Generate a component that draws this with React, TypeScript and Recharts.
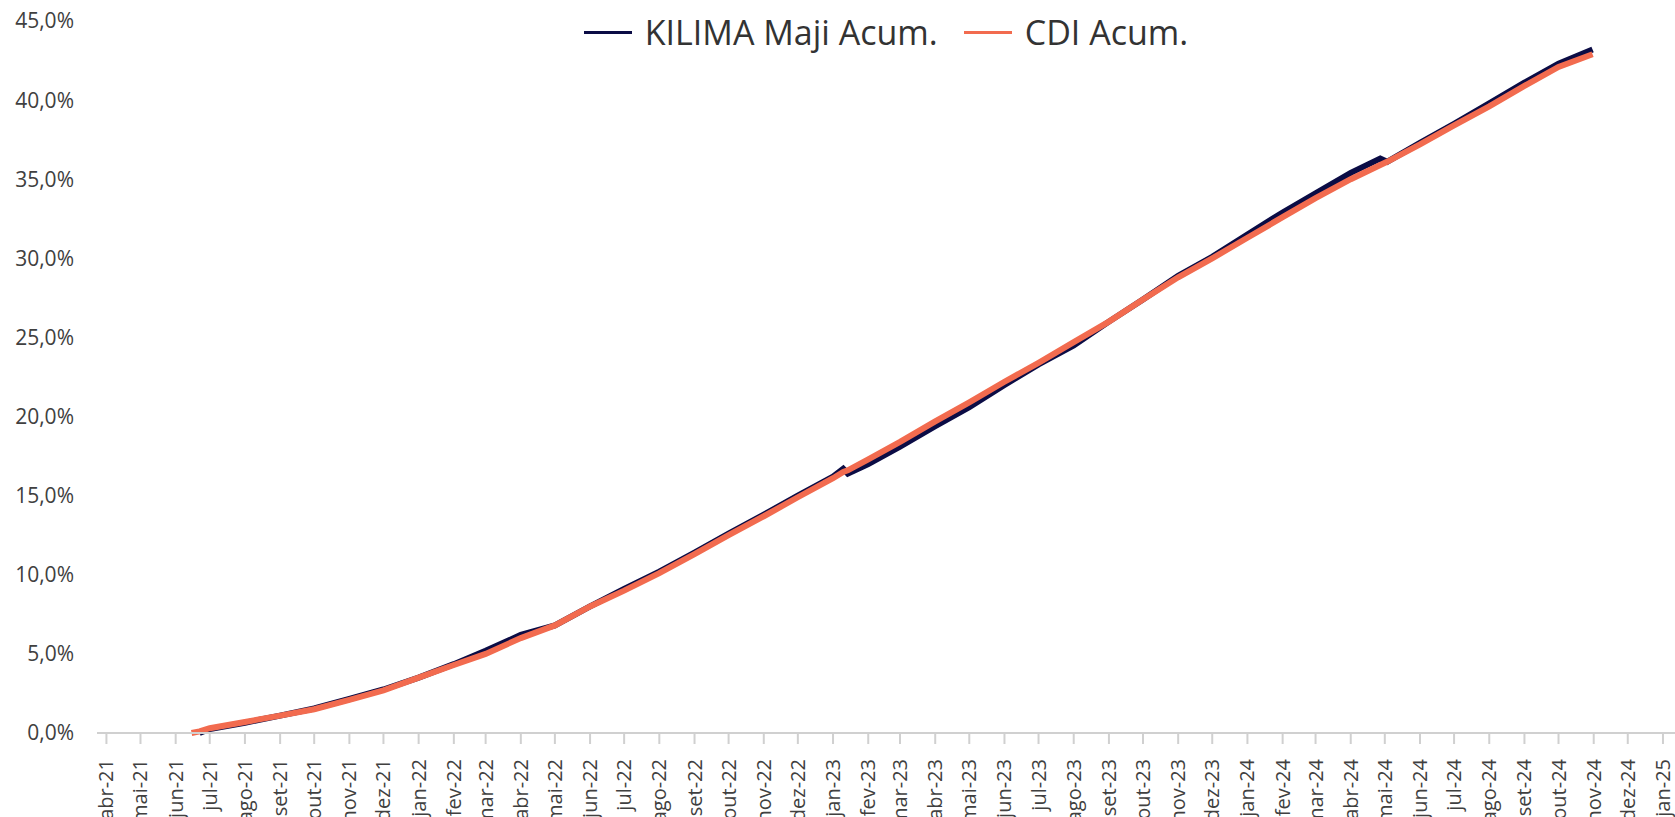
import { LineChart, Line, XAxis, YAxis, Legend } from "recharts";

// daily series (values in %)
const dates = [
  "2021-06-15", "2021-06-22", "2021-07-01", "2021-08-01", "2021-09-01", "2021-10-01",
  "2021-11-01", "2021-12-01", "2022-01-01", "2022-02-01", "2022-03-01", "2022-04-01",
  "2022-05-01", "2022-06-01", "2022-07-01", "2022-08-01", "2022-09-01", "2022-10-01",
  "2022-11-01", "2022-12-01", "2023-01-01", "2023-01-10", "2023-01-14", "2023-02-01",
  "2023-03-01", "2023-04-01", "2023-05-01", "2023-06-01", "2023-07-01", "2023-08-01",
  "2023-09-01", "2023-10-01", "2023-11-01", "2023-12-01", "2024-01-01", "2024-02-01",
  "2024-03-01", "2024-04-01", "2024-04-27", "2024-05-03", "2024-06-01", "2024-07-01",
  "2024-08-01", "2024-09-01", "2024-10-01", "2024-10-31",
];

const kilima = [
  null, 0.0, 0.25, 0.65, 1.1, 1.55,
  2.15, 2.75, 3.5, 4.35, 5.2, 6.2,
  6.8, 8.0, 9.1, 10.2, 11.4, 12.6,
  13.8, 15.0, 16.2, 16.7, 16.4, 17.0,
  18.1, 19.4, 20.6, 22.0, 23.3, 24.5,
  26.0, 27.4, 28.9, 30.1, 31.5, 32.9,
  34.1, 35.4, 36.3, 36.1, 37.3, 38.5,
  39.8, 41.1, 42.3, 43.2,
];

const cdi = [
  0.0, 0.1, 0.3, 0.7, 1.1, 1.5,
  2.1, 2.7, 3.5, 4.3, 5.0, 6.0,
  6.8, 8.0, 9.0, 10.1, 11.3, 12.5,
  13.7, 14.9, 16.1, 16.5, 16.6, 17.3,
  18.4, 19.7, 20.9, 22.2, 23.4, 24.7,
  26.0, 27.4, 28.8, 30.0, 31.3, 32.6,
  33.8, 35.0, 35.9, 36.1, 37.2, 38.4,
  39.6, 40.9, 42.1, 42.9,
];

const yTicks = [0, 5, 10, 15, 20, 25, 30, 35, 40, 45];
const monthNames = ["jan", "fev", "mar", "abr", "mai", "jun", "jul", "ago", "set", "out", "nov", "dez"];

const NAVY = "#0b0c45";
const ORANGE = "#f26b4f";
const FONT = "'Open Sans', sans-serif";

const DAY0 = Date.UTC(2021, 3, 1);
const dayOf = (s: string) => (Date.parse(s) - DAY0) / 86400000;

// month ticks abr-21 .. jan-25
const tickDays: number[] = [];
const tickLabels: string[] = [];
for (let m = 3; m <= 48; m++) {
  const yr = 2021 + Math.floor(m / 12);
  const mo = m % 12;
  tickDays.push((Date.UTC(yr, mo, 1) - DAY0) / 86400000);
  tickLabels.push(`${monthNames[mo]}-${String(yr).slice(2)}`);
}

const data = dates.map((d, i) => ({ day: dayOf(d), kilima: kilima[i], cdi: cdi[i] }));

const fmtPct = (v: number) => `${v.toFixed(1).replace(".", ",")}%`;

const XTick = (props: any) => {
  const { x, y, payload } = props;
  const idx = tickDays.indexOf(payload.value);
  return (
    <text
      transform={`translate(${x},${y + 13}) rotate(-90)`}
      textAnchor="end"
      dy="0.35em"
      fill="#404040"
      fontSize={20}
      fontFamily={FONT}
    >
      {tickLabels[idx]}
    </text>
  );
};

const renderLegend = () => (
  <div style={{ display: "flex", justifyContent: "center", alignItems: "center", height: 40, fontFamily: FONT }}>
    {[
      { name: "KILIMA Maji Acum.", color: NAVY },
      { name: "CDI Acum.", color: ORANGE },
    ].map((it, i) => (
      <div key={it.name} style={{ display: "flex", alignItems: "center", marginLeft: i ? 26 : 0 }}>
        <span style={{ display: "inline-block", width: 48, height: 3, background: it.color, marginRight: 13 }} />
        <span style={{ fontSize: 34, color: "#333", lineHeight: "40px" }}>{it.name}</span>
      </div>
    ))}
  </div>
);

export default function App() {
  return (
    <div style={{ position: "absolute", left: 0, top: 0, width: 1675, height: 817, background: "#fff" }}>
      <LineChart
        width={1675}
        height={817}
        data={data}
        margin={{ top: 21, right: 0, left: 0, bottom: 0 }}
        style={{ fontFamily: FONT }}
      >
        <XAxis
          type="number"
          dataKey="day"
          domain={[-8.3, 1381.6]}
          allowDataOverflow
          ticks={tickDays}
          interval={0}
          height={84}
          tickSize={11}
          stroke="#d0d0d0"
          strokeWidth={2}
          tick={<XTick />}
        />
        <YAxis
          domain={[0, 45]}
          ticks={yTicks}
          interval={0}
          width={97}
          axisLine={false}
          tickLine={false}
          tickSize={0}
          tickMargin={23}
          tick={{ fill: "#404040", fontSize: 21 }}
          tickFormatter={fmtPct}
        />
        <Legend verticalAlign="middle" wrapperStyle={{ top: 12, left: 97, width: 1578 }} content={renderLegend} />
        <Line dataKey="kilima" stroke={NAVY} strokeWidth={6} dot={false} isAnimationActive={false} />
        <Line dataKey="cdi" stroke={ORANGE} strokeWidth={6} dot={false} isAnimationActive={false} />
      </LineChart>
    </div>
  );
}
